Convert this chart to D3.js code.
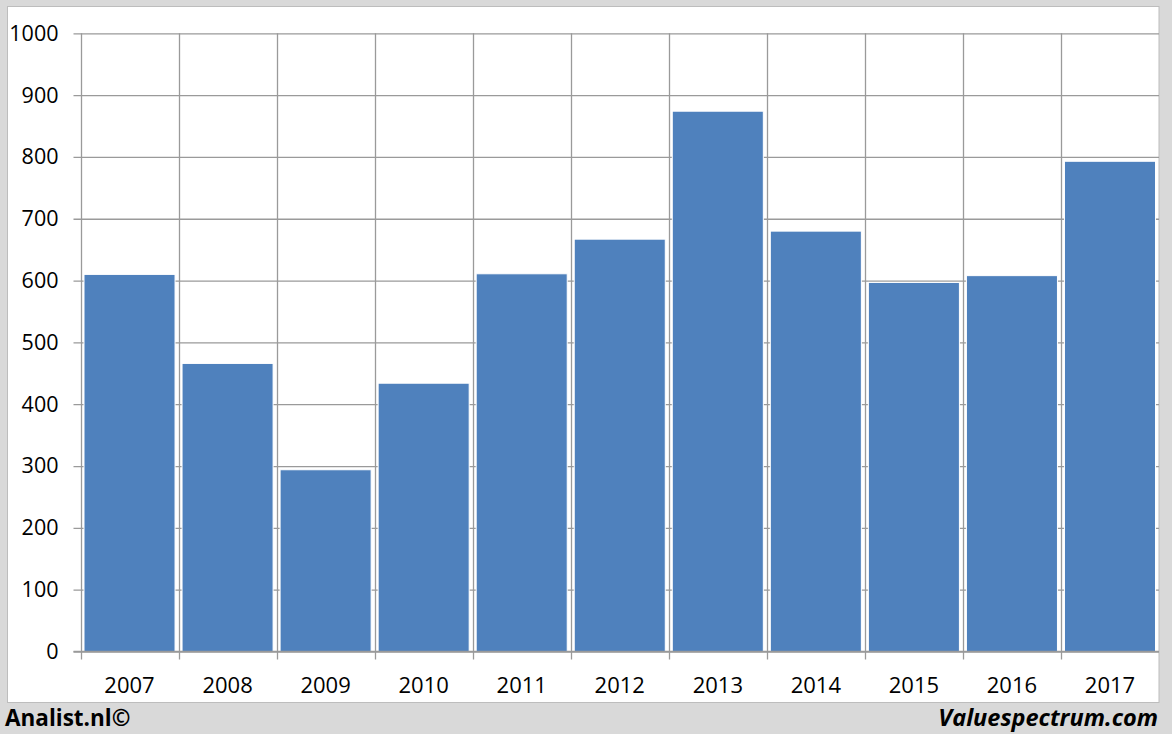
<!DOCTYPE html>
<html><head><meta charset="utf-8">
<script src="https://cdn.jsdelivr.net/npm/d3@7"></script>
<style>html,body{margin:0;padding:0;background:#d9d9d9;}svg{display:block;}</style>
</head><body><svg id="c" width="1172" height="734"></svg>
<script>
const categories = ["2007","2008","2009","2010","2011","2012","2013","2014","2015","2016","2017"];
const values = [610, 466, 294, 434, 611, 667, 874, 680, 597, 608, 793];
const yTicks = [0,100,200,300,400,500,600,700,800,900,1000];

const svg = d3.select("#c");
const W = 1172, H = 734;
svg.append("rect").attr("width", W).attr("height", H).attr("fill", "#d9d9d9");
svg.append("rect").attr("x", 7.5).attr("y", 6.5).attr("width", 1151.5).attr("height", 696)
  .attr("fill", "#ffffff").attr("stroke", "#bdbdbd").attr("stroke-width", 1);

const m = {left: 80.5, right: 1159, top: 33.3, bottom: 651.5};
const x = d3.scaleBand().domain(categories).range([m.left, m.right]).paddingInner(0).paddingOuter(0);
const y = d3.scaleLinear().domain([0, 1000]).range([m.bottom, m.top]);
const font = "'Open Sans', 'Liberation Sans', sans-serif";

// horizontal gridlines + y axis
const yAxis = d3.axisLeft(y).tickValues(yTicks).tickSize(m.right - m.left + 7).tickSizeOuter(0).tickPadding(15)
  .tickFormat(d3.format("d"));
const gy = svg.append("g").attr("transform", `translate(${m.right},0)`).call(yAxis);
gy.select(".domain").remove();
gy.selectAll(".tick line").attr("stroke", "#9a9a9a").attr("stroke-width", 1.3);
gy.selectAll(".tick text").attr("font-family", font).attr("font-size", 21.5).attr("fill", "#000")
  .attr("x", -(m.right - m.left + 22));

// vertical gridlines at category boundaries
const bounds = categories.map(c => x(c));
svg.append("g").selectAll("line").data(bounds).join("line")
  .attr("x1", d => Math.round(d) + 0.5).attr("x2", d => Math.round(d) + 0.5)
  .attr("y1", m.top).attr("y2", m.bottom + 8)
  .attr("stroke", "#9a9a9a").attr("stroke-width", 1.3);

// bars
const inset = 3.5;
svg.append("g").selectAll("rect").data(categories).join("rect")
  .attr("x", c => x(c) + inset)
  .attr("width", x.bandwidth() - 2 * inset)
  .attr("y", (c, i) => y(values[i]))
  .attr("height", (c, i) => y(0) - y(values[i]))
  .attr("fill", "#4f81bd").attr("stroke", "#ffffff").attr("stroke-width", 1);

// x axis line
svg.append("line").attr("x1", m.left - 7).attr("x2", m.right).attr("y1", m.bottom).attr("y2", m.bottom)
  .attr("stroke", "#9a9a9a").attr("stroke-width", 1.3);

// x labels
const xAxis = d3.axisBottom(x).tickSize(0).tickPadding(0);
const gx = svg.append("g").attr("transform", `translate(0,${m.bottom})`).call(xAxis);
gx.select(".domain").remove();
gx.selectAll(".tick text").attr("font-family", font).attr("font-size", 22).attr("fill", "#000")
  .attr("dy", 0).attr("y", 41);

// footer
svg.append("text").attr("x", 5).attr("y", 726).attr("font-family", font).attr("font-weight", "bold")
  .attr("font-size", 22.5).attr("fill", "#000").text("Analist.nl©");
svg.append("text").attr("x", 1158).attr("y", 726).attr("text-anchor", "end").attr("font-family", font)
  .attr("font-weight", "bold").attr("font-style", "italic").attr("font-size", 23.5).attr("fill", "#000")
  .text("Valuespectrum.com");
</script></body></html>
